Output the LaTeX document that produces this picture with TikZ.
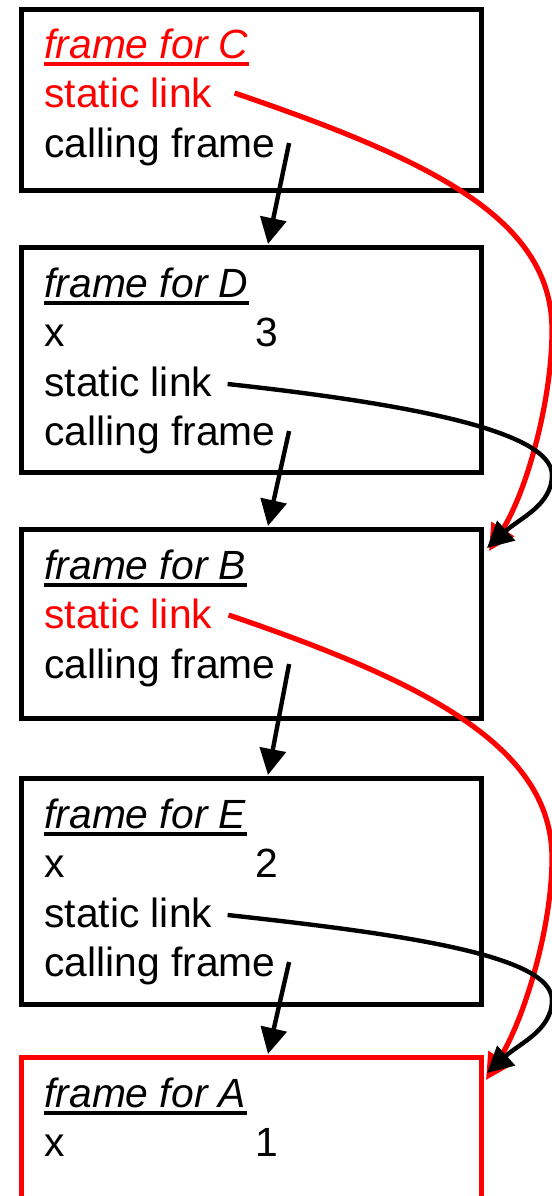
\documentclass[tikz,border=0pt]{standalone}
\usepackage{fontspec}
\setmainfont{Liberation Sans}
\usetikzlibrary{arrows.meta, positioning}

\begin{document}
\begin{tikzpicture}[
  x=0.5pt, y=-0.5pt,
  stackframe/.style={draw, line width=2.5pt, minimum width=230pt, inner sep=0pt, outer sep=0pt},
  txt/.style={anchor=base west, inner sep=0pt, font=\fontsize{20.4}{24}\selectfont},
  ttl/.style={txt, font=\fontsize{20.4}{24}\selectfont\itshape},
  uline/.style={line width=1.75pt},
  call/.style={-{Triangle[length=13pt, width=13pt]}, line width=2.2pt},
  slink/.style={-{Triangle[length=13pt, width=13pt]}, line width=2.2pt},
  node distance=28.5pt
]
\useasboundingbox (0,0) rectangle (552,1196);

% Frames on the stack
\node[stackframe, minimum height=90.5pt, anchor=north west] (C) at (21,9) {};
\node[stackframe, minimum height=112.5pt, below=of C] (D) {};
\node[stackframe, minimum height=94.5pt, below=of D] (B) {};
\node[stackframe, minimum height=113pt, below=30pt of B] (E) {};
\node[stackframe, draw=red, minimum height=100pt, below=26.5pt of E] (A) {};

% frame for C
\node[ttl, red] (Ct) at ([shift={(23,49)}]C.north west) {frame for C};
\node[txt, red] (Csl) at ([shift={(23,98)}]C.north west) {static link};
\node[txt] (Ccf) at ([shift={(23,148)}]C.north west) {calling frame};
\draw[uline, red] ([yshift=-3pt]Ct.base west) -- ([yshift=-3pt]Ct.base east);

% frame for D
\node[ttl] (Dt) at ([shift={(23,50)}]D.north west) {frame for D};
\node[txt] (Dx) at ([shift={(23,99)}]D.north west) {x};
\node[txt] (Dxv) at ([shift={(234,99)}]D.north west) {3};
\node[txt] (Dsl) at ([shift={(23,149)}]D.north west) {static link};
\node[txt] (Dcf) at ([shift={(23,198)}]D.north west) {calling frame};
\draw[uline] ([yshift=-3pt]Dt.base west) -- ([yshift=-3pt]Dt.base east);

% frame for B
\node[ttl] (Bt) at ([shift={(23,50)}]B.north west) {frame for B};
\node[txt, red] (Bsl) at ([shift={(23,99)}]B.north west) {static link};
\node[txt] (Bcf) at ([shift={(23,149)}]B.north west) {calling frame};
\draw[uline] ([yshift=-3pt]Bt.base west) -- ([yshift=-3pt]Bt.base east);

% frame for E
\node[ttl] (Et) at ([shift={(23,50)}]E.north west) {frame for E};
\node[txt] (Ex) at ([shift={(23,99)}]E.north west) {x};
\node[txt] (Exv) at ([shift={(234,99)}]E.north west) {2};
\node[txt] (Esl) at ([shift={(23,149)}]E.north west) {static link};
\node[txt] (Ecf) at ([shift={(23,198)}]E.north west) {calling frame};
\draw[uline] ([yshift=-3pt]Et.base west) -- ([yshift=-3pt]Et.base east);

% frame for A
\node[ttl] (At) at ([shift={(23,50)}]A.north west) {frame for A};
\node[txt] (Ax) at ([shift={(23,99)}]A.north west) {x};
\node[txt] (Axv) at ([shift={(234,99)}]A.north west) {1};
\draw[uline] ([yshift=-3pt]At.base west) -- ([yshift=-3pt]At.base east);

% calling frame links
\draw[call] ([shift={(13,-14)}]Ccf.base east) -- ([shift={(17,-3)}]D.north);
\draw[call] ([shift={(13,-14)}]Dcf.base east) -- ([shift={(17,-3)}]B.north);
\draw[call] ([shift={(13,-14)}]Bcf.base east) -- ([shift={(17,-3)}]E.north);
\draw[call] ([shift={(13,-14)}]Ecf.base east) -- ([shift={(17,-3)}]A.north);

% static links
\draw[slink, red, line width=2.6pt] ([shift={(22,-14)}]Csl.base east)
  .. controls +(200,68) and +(0,-110) .. ([shift={(71,-199)}]B.north east)
  .. controls +(0,70) and +(38,-60) .. ([shift={(8,22)}]B.north east);
\draw[slink] ([shift={(15,-12)}]Dsl.base east)
  .. controls +(174,19) and +(0,-45) .. ([shift={(71,-54)}]B.north east)
  .. controls +(0,30) and +(33,-30) .. ([shift={(6,19)}]B.north east);
\draw[slink, red, line width=2.6pt] ([shift={(16,-13)}]Bsl.base east)
  .. controls +(200,68) and +(0,-110) .. ([shift={(71,-199)}]A.north east)
  .. controls +(0,70) and +(38,-60) .. ([shift={(5,23)}]A.north east);
\draw[slink] ([shift={(15,-12)}]Esl.base east)
  .. controls +(174,19) and +(0,-45) .. ([shift={(71,-57)}]A.north east)
  .. controls +(0,30) and +(33,-30) .. ([shift={(6,16)}]A.north east);

\end{tikzpicture}
\end{document}
